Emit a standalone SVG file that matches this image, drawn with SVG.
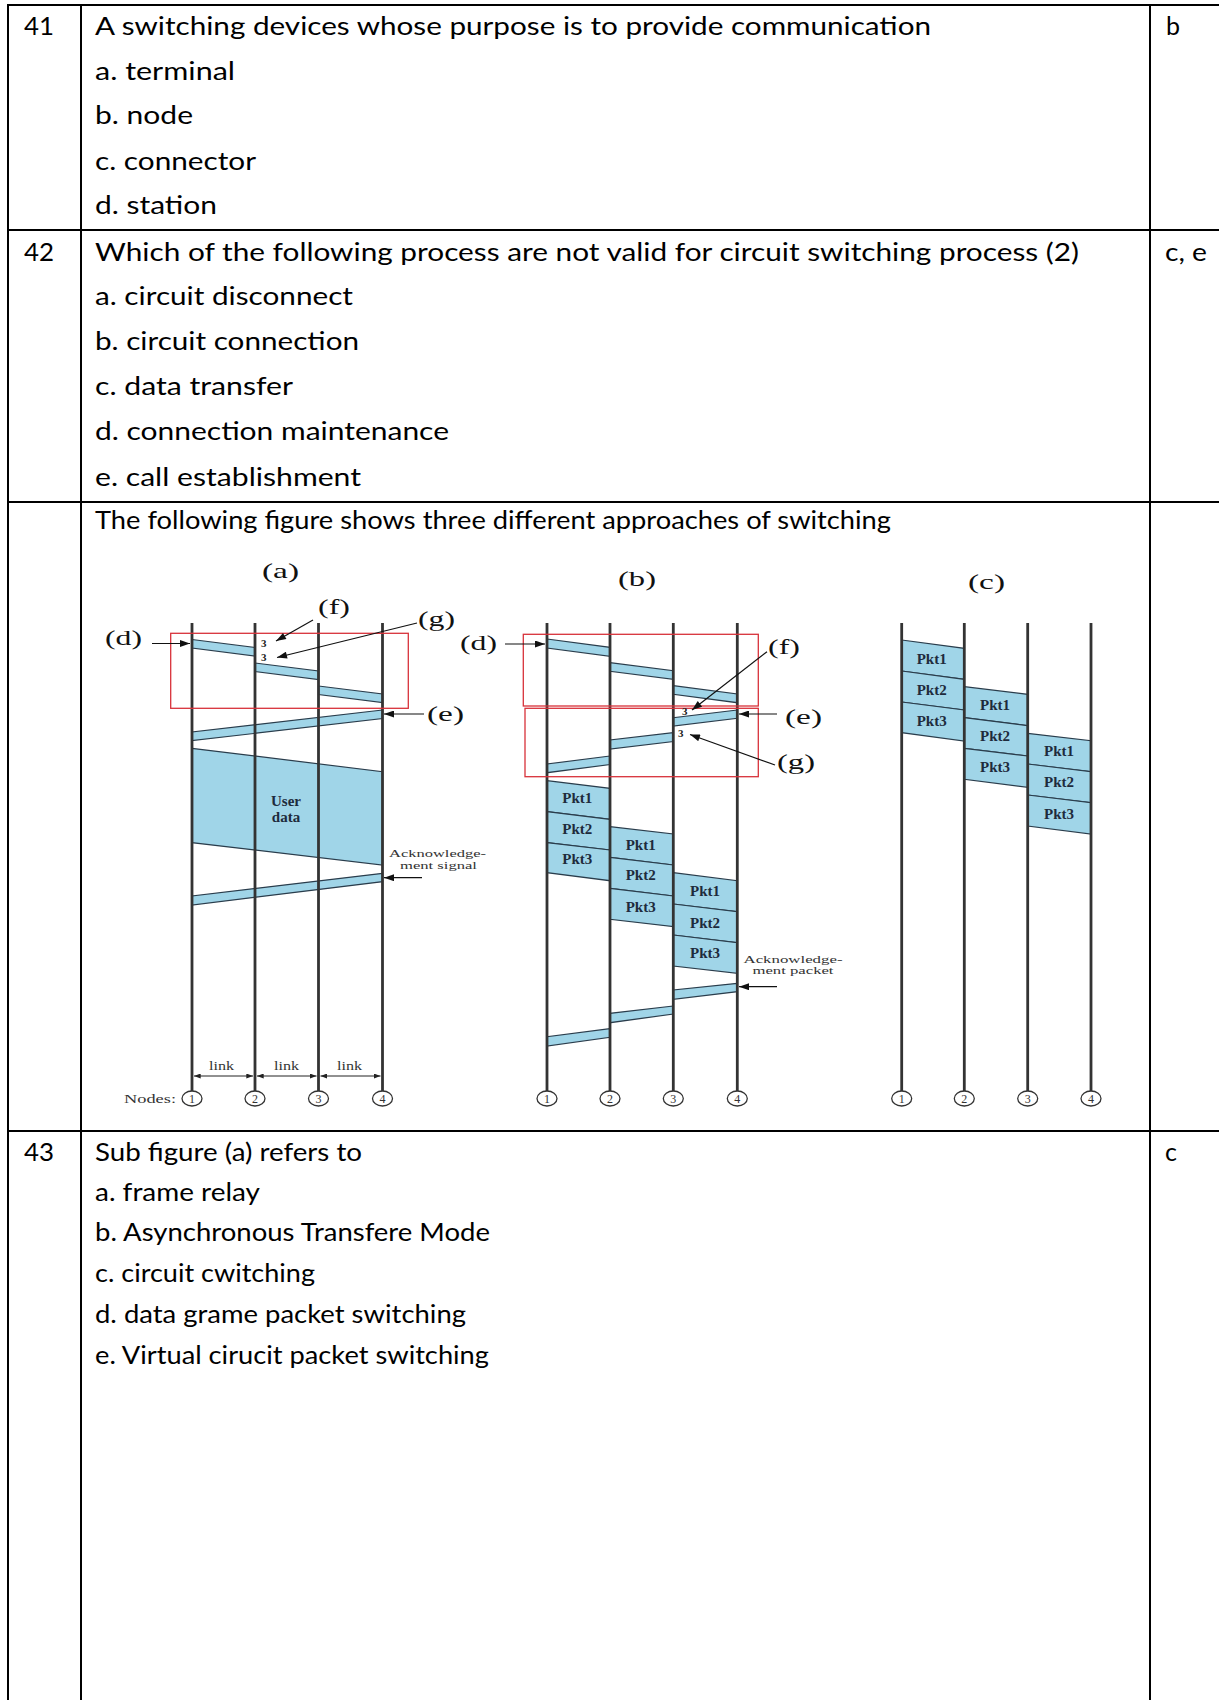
<svg xmlns="http://www.w3.org/2000/svg" width="1219" height="1700" viewBox="0 0 1219 1700">
<style>
.t{font-family:Lato,"Liberation Sans",sans-serif;font-size:25px;fill:#000}
.grid{stroke:#000;stroke-width:2;fill:none}
.band{fill:#a0d5e8;stroke:#2a3d4c;stroke-width:1.2}
.vl{stroke:#333;stroke-width:2.8}
.red{fill:none;stroke:#d8323a;stroke-width:1.3}
.lbl{font-family:"Liberation Serif",serif;font-size:22px;fill:#111}
.pk{font-family:"Liberation Serif",serif;font-size:15px;font-weight:bold;fill:#1e2b3c;text-anchor:middle}
.sm{font-family:"Liberation Serif",serif;font-size:11px;fill:#333}
.lk{font-family:"Liberation Serif",serif;font-size:12.5px;fill:#333}
.nd{font-family:"Liberation Serif",serif;font-size:12px;fill:#333;text-anchor:middle}
.nc{fill:#fff;stroke:#333;stroke-width:1.3}
.mk{font-family:"Liberation Serif",serif;font-size:11px;font-weight:bold;fill:#222}
.ar{stroke:#111;stroke-width:1.2;fill:none}
</style>
<defs>
<marker id="ah" viewBox="0 0 10 7" refX="10" refY="3.5" markerWidth="11" markerHeight="7" markerUnits="userSpaceOnUse" orient="auto"><path d="M0,0 L10,3.5 L0,7 z" fill="#111"/></marker>
<marker id="ls" viewBox="0 0 8 6" refX="8" refY="3" markerWidth="7" markerHeight="5" markerUnits="userSpaceOnUse" orient="auto-start-reverse"><path d="M0,0 L8,3 L0,6 z" fill="#222"/></marker>
</defs>
<rect x="0" y="0" width="1219" height="1700" fill="#fff"/>

<g id="table-grid" class="grid">
<line x1="8" y1="5" x2="1219" y2="5"/>
<line x1="8" y1="4" x2="8" y2="1700"/>
<line x1="81" y1="4" x2="81" y2="1700"/>
<line x1="1150" y1="4" x2="1150" y2="1700"/>
<line x1="8" y1="230" x2="1219" y2="230"/>
<line x1="8" y1="502" x2="1219" y2="502"/>
<line x1="8" y1="1131" x2="1219" y2="1131"/>
</g>

<g id="q41">
<text class="t" x="24" y="35" textLength="30" lengthAdjust="spacingAndGlyphs">41</text>
<text class="t" x="95" y="35" textLength="836" lengthAdjust="spacingAndGlyphs">A switching devices whose purpose is to provide communication</text>
<text class="t" x="95" y="79.5" textLength="140" lengthAdjust="spacingAndGlyphs">a. terminal</text>
<text class="t" x="95" y="124" textLength="98" lengthAdjust="spacingAndGlyphs">b. node</text>
<text class="t" x="95" y="169.5" textLength="161" lengthAdjust="spacingAndGlyphs">c. connector</text>
<text class="t" x="95" y="214" textLength="122" lengthAdjust="spacingAndGlyphs">d. station</text>
<text class="t" x="1166" y="35">b</text>
</g>

<g id="q42">
<text class="t" x="24" y="261" textLength="30" lengthAdjust="spacingAndGlyphs">42</text>
<text class="t" x="95" y="261" textLength="984" lengthAdjust="spacingAndGlyphs">Which of the following process are not valid for circuit switching process (2)</text>
<text class="t" x="95" y="305" textLength="258" lengthAdjust="spacingAndGlyphs">a. circuit disconnect</text>
<text class="t" x="95" y="349.5" textLength="264" lengthAdjust="spacingAndGlyphs">b. circuit connection</text>
<text class="t" x="95" y="395" textLength="198" lengthAdjust="spacingAndGlyphs">c. data transfer</text>
<text class="t" x="95" y="439.5" textLength="354" lengthAdjust="spacingAndGlyphs">d. connection maintenance</text>
<text class="t" x="95" y="486" textLength="266" lengthAdjust="spacingAndGlyphs">e. call establishment</text>
<text class="t" x="1165" y="261" textLength="42" lengthAdjust="spacingAndGlyphs">c, e</text>
</g>

<g id="fig-caption">
<text class="t" x="95" y="529" textLength="796" lengthAdjust="spacingAndGlyphs">The following figure shows three different approaches of switching</text>
</g>

<g id="fig-a">
<text class="lbl" x="262" y="578" textLength="37" lengthAdjust="spacingAndGlyphs">(a)</text>
<polygon class="band" points="192,639.5 255,647.5 255,656 192,648"/>
<polygon class="band" points="255,663 318.5,671 318.5,679.5 255,671.5"/>
<polygon class="band" points="318.5,686 382.5,694 382.5,702.5 318.5,694.5"/>
<polygon class="band" points="382.5,710 192,732 192,740.7 382.5,718.5"/>
<polygon class="band" points="192,748.3 382.5,771.7 382.5,865 192,842.7"/>
<polygon class="band" points="382.5,873.3 192,896 192,905 382.5,881.7"/>
<line class="vl" x1="192" y1="623" x2="192" y2="1091"/>
<line class="vl" x1="255" y1="623" x2="255" y2="1091"/>
<line class="vl" x1="318.5" y1="623" x2="318.5" y2="1091"/>
<line class="vl" x1="382.5" y1="623" x2="382.5" y2="1091"/>
<rect class="red" x="170.7" y="633.3" width="237.6" height="75"/>
<text class="pk" x="286" y="806">User</text>
<text class="pk" x="286" y="822">data</text>
<text class="mk" x="261" y="647">3</text>
<text class="mk" x="261" y="661">3</text>
<text class="lbl" x="105" y="645" textLength="37" lengthAdjust="spacingAndGlyphs">(d)</text>
<text class="lbl" x="318" y="614" textLength="32" lengthAdjust="spacingAndGlyphs">(f)</text>
<text class="lbl" x="418" y="626" textLength="37" lengthAdjust="spacingAndGlyphs">(g)</text>
<text class="lbl" x="427" y="721" textLength="37" lengthAdjust="spacingAndGlyphs">(e)</text>
<text class="sm" x="389" y="857" textLength="97" lengthAdjust="spacingAndGlyphs">Acknowledge-</text>
<text class="sm" x="400" y="868.5" textLength="77" lengthAdjust="spacingAndGlyphs">ment signal</text>
<text class="lk" x="209" y="1070" textLength="25" lengthAdjust="spacingAndGlyphs">link</text>
<text class="lk" x="274" y="1070" textLength="25" lengthAdjust="spacingAndGlyphs">link</text>
<text class="lk" x="337" y="1070" textLength="25" lengthAdjust="spacingAndGlyphs">link</text>
<text class="lk" x="124" y="1103" textLength="52" lengthAdjust="spacingAndGlyphs">Nodes:</text>
<ellipse class="nc" cx="192" cy="1098.5" rx="10" ry="7.5"/>
<ellipse class="nc" cx="255" cy="1098.5" rx="10" ry="7.5"/>
<ellipse class="nc" cx="318.5" cy="1098.5" rx="10" ry="7.5"/>
<ellipse class="nc" cx="382.5" cy="1098.5" rx="10" ry="7.5"/>
<text class="nd" x="192" y="1102.5">1</text>
<text class="nd" x="255" y="1102.5">2</text>
<text class="nd" x="318.5" y="1102.5">3</text>
<text class="nd" x="382.5" y="1102.5">4</text>
</g>

<g id="fig-b">
<text class="lbl" x="618" y="586" textLength="38" lengthAdjust="spacingAndGlyphs">(b)</text>
<polygon class="band" points="547,639 610,647.3 610,656.3 547,648"/>
<polygon class="band" points="610,662.7 673.3,670.7 673.3,679.3 610,671.3"/>
<polygon class="band" points="673.3,685.7 737.3,694 737.3,702.7 673.3,694.3"/>
<polygon class="band" points="737.3,710 673.3,717.7 673.3,726 737.3,718.3"/>
<polygon class="band" points="673.3,732.7 610,740 610,749 673.3,741.5"/>
<polygon class="band" points="610,756 547,764 547,772.7 610,764.5"/>
<polygon class="band" points="547,780.7 610,788.3 610,819.3 547,811.7"/>
<polygon class="band" points="547,811.7 610,819.3 610,850 547,842.7"/>
<polygon class="band" points="547,842.7 610,850 610,880.7 547,872.7"/>
<polygon class="band" points="610,826.7 673.3,834 673.3,865 610,857.3"/>
<polygon class="band" points="610,857.3 673.3,865 673.3,896 610,888.3"/>
<polygon class="band" points="610,888.3 673.3,896 673.3,926.7 610,919.3"/>
<polygon class="band" points="673.3,872.7 737.3,880.7 737.3,911.7 673.3,904"/>
<polygon class="band" points="673.3,904 737.3,911.7 737.3,942.7 673.3,935"/>
<polygon class="band" points="673.3,935 737.3,942.7 737.3,973.3 673.3,966"/>
<polygon class="band" points="737.3,983.3 673.3,990 673.3,999.3 737.3,991.7"/>
<polygon class="band" points="673.3,1006 610,1013.3 610,1022.7 673.3,1014"/>
<polygon class="band" points="610,1028.7 547,1036.7 547,1046 610,1037.3"/>
<line class="vl" x1="547" y1="623" x2="547" y2="1091"/>
<line class="vl" x1="610" y1="623" x2="610" y2="1091"/>
<line class="vl" x1="673.3" y1="623" x2="673.3" y2="1091"/>
<line class="vl" x1="737.3" y1="623" x2="737.3" y2="1091"/>
<rect class="red" x="523.3" y="634.3" width="235" height="71.7"/>
<rect class="red" x="525" y="708.3" width="233.3" height="68.4"/>
<text class="pk" x="577.3" y="803.3">Pkt1</text>
<text class="pk" x="577.3" y="834.3">Pkt2</text>
<text class="pk" x="577.3" y="864.3">Pkt3</text>
<text class="pk" x="640.7" y="850">Pkt1</text>
<text class="pk" x="640.7" y="880">Pkt2</text>
<text class="pk" x="640.7" y="911.7">Pkt3</text>
<text class="pk" x="705" y="895.7">Pkt1</text>
<text class="pk" x="705" y="927.7">Pkt2</text>
<text class="pk" x="705" y="957.7">Pkt3</text>
<text class="mk" x="682" y="714.5">3</text>
<text class="mk" x="678" y="737">3</text>
<text class="lbl" x="460" y="650" textLength="37" lengthAdjust="spacingAndGlyphs">(d)</text>
<text class="lbl" x="768" y="654" textLength="32" lengthAdjust="spacingAndGlyphs">(f)</text>
<text class="lbl" x="785" y="724" textLength="37" lengthAdjust="spacingAndGlyphs">(e)</text>
<text class="lbl" x="777" y="769" textLength="38" lengthAdjust="spacingAndGlyphs">(g)</text>
<text class="sm" x="743.5" y="962.5" textLength="99" lengthAdjust="spacingAndGlyphs">Acknowledge-</text>
<text class="sm" x="752.5" y="974" textLength="81" lengthAdjust="spacingAndGlyphs">ment packet</text>
<ellipse class="nc" cx="547" cy="1098.5" rx="10" ry="7.5"/>
<ellipse class="nc" cx="610" cy="1098.5" rx="10" ry="7.5"/>
<ellipse class="nc" cx="673.3" cy="1098.5" rx="10" ry="7.5"/>
<ellipse class="nc" cx="737.3" cy="1098.5" rx="10" ry="7.5"/>
<text class="nd" x="547" y="1102.5">1</text>
<text class="nd" x="610" y="1102.5">2</text>
<text class="nd" x="673.3" y="1102.5">3</text>
<text class="nd" x="737.3" y="1102.5">4</text>
</g>

<g id="fig-c">
<text class="lbl" x="968" y="589" textLength="37" lengthAdjust="spacingAndGlyphs">(c)</text>
<polygon class="band" points="901.7,640 964.3,648.3 964.3,679.3 901.7,671"/>
<polygon class="band" points="901.7,671 964.3,679.3 964.3,710 901.7,702"/>
<polygon class="band" points="901.7,702 964.3,710 964.3,741 901.7,732.7"/>
<polygon class="band" points="964.3,686.7 1027.7,694.3 1027.7,725.7 964.3,717.7"/>
<polygon class="band" points="964.3,717.7 1027.7,725.7 1027.7,756 964.3,748.3"/>
<polygon class="band" points="964.3,748.3 1027.7,756 1027.7,787.3 964.3,779.3"/>
<polygon class="band" points="1027.7,733.3 1091,740.7 1091,771.7 1027.7,764"/>
<polygon class="band" points="1027.7,764 1091,771.7 1091,802.7 1027.7,795"/>
<polygon class="band" points="1027.7,795 1091,802.7 1091,834 1027.7,826"/>
<line class="vl" x1="901.7" y1="623" x2="901.7" y2="1091"/>
<line class="vl" x1="964.3" y1="623" x2="964.3" y2="1091"/>
<line class="vl" x1="1027.7" y1="623" x2="1027.7" y2="1091"/>
<line class="vl" x1="1091" y1="623" x2="1091" y2="1091"/>
<text class="pk" x="931.7" y="664.3">Pkt1</text>
<text class="pk" x="931.7" y="695">Pkt2</text>
<text class="pk" x="931.7" y="725.7">Pkt3</text>
<text class="pk" x="995" y="710">Pkt1</text>
<text class="pk" x="995" y="741">Pkt2</text>
<text class="pk" x="995" y="771.7">Pkt3</text>
<text class="pk" x="1059" y="756">Pkt1</text>
<text class="pk" x="1059" y="786.7">Pkt2</text>
<text class="pk" x="1059" y="819">Pkt3</text>
<ellipse class="nc" cx="901.7" cy="1098.5" rx="10" ry="7.5"/>
<ellipse class="nc" cx="964.3" cy="1098.5" rx="10" ry="7.5"/>
<ellipse class="nc" cx="1027.7" cy="1098.5" rx="10" ry="7.5"/>
<ellipse class="nc" cx="1091" cy="1098.5" rx="10" ry="7.5"/>
<text class="nd" x="901.7" y="1102.5">1</text>
<text class="nd" x="964.3" y="1102.5">2</text>
<text class="nd" x="1027.7" y="1102.5">3</text>
<text class="nd" x="1091" y="1102.5">4</text>
</g>

<g id="connectors">
<line class="ar" x1="152" y1="643.5" x2="190" y2="643.5" marker-end="url(#ah)"/>
<line class="ar" x1="313" y1="620" x2="276" y2="641" marker-end="url(#ah)"/>
<line class="ar" x1="417" y1="623" x2="277" y2="657.5" marker-end="url(#ah)"/>
<line class="ar" x1="424" y1="714" x2="384" y2="714" marker-end="url(#ah)"/>
<line class="ar" x1="422" y1="877.7" x2="384" y2="877.7" marker-end="url(#ah)"/>
<line stroke="#222" stroke-width="1" x1="194" y1="1076" x2="253" y2="1076" marker-start="url(#ls)" marker-end="url(#ls)"/>
<line stroke="#222" stroke-width="1" x1="257" y1="1076" x2="316.5" y2="1076" marker-start="url(#ls)" marker-end="url(#ls)"/>
<line stroke="#222" stroke-width="1" x1="320.5" y1="1076" x2="380.5" y2="1076" marker-start="url(#ls)" marker-end="url(#ls)"/>
<line class="ar" x1="505" y1="644" x2="545" y2="644" marker-end="url(#ah)"/>
<line class="ar" x1="767" y1="651.7" x2="692" y2="710" marker-end="url(#ah)"/>
<line class="ar" x1="777" y1="714" x2="739" y2="714" marker-end="url(#ah)"/>
<line class="ar" x1="775" y1="765" x2="690" y2="734.5" marker-end="url(#ah)"/>
<line class="ar" x1="777" y1="986.7" x2="739" y2="986.7" marker-end="url(#ah)"/>
</g>

<g id="q43">
<text class="t" x="24" y="1161" textLength="30" lengthAdjust="spacingAndGlyphs">43</text>
<text class="t" x="95" y="1161" textLength="267" lengthAdjust="spacingAndGlyphs">Sub figure (a) refers to</text>
<text class="t" x="95" y="1201" textLength="165" lengthAdjust="spacingAndGlyphs">a. frame relay</text>
<text class="t" x="95" y="1241" textLength="395" lengthAdjust="spacingAndGlyphs">b. Asynchronous Transfere Mode</text>
<text class="t" x="95" y="1282" textLength="220" lengthAdjust="spacingAndGlyphs">c. circuit cwitching</text>
<text class="t" x="95" y="1323" textLength="371" lengthAdjust="spacingAndGlyphs">d. data grame packet switching</text>
<text class="t" x="95" y="1364" textLength="394" lengthAdjust="spacingAndGlyphs">e. Virtual cirucit packet switching</text>
<text class="t" x="1165" y="1161">c</text>
</g>
</svg>
